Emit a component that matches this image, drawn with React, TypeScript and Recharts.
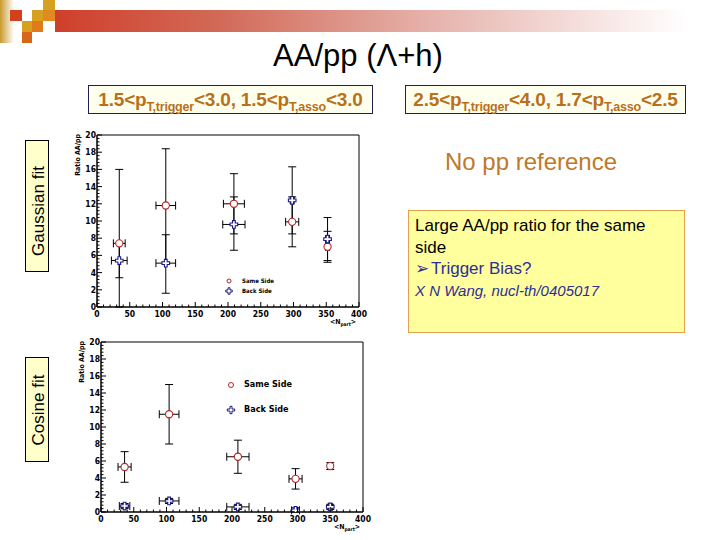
import React from 'react';
import { ScatterChart, Scatter, XAxis, YAxis, ErrorBar, Legend, Label, ReferenceArea } from 'recharts';

// ---------- data ----------
const nPartMajorTicks = [0, 50, 100, 150, 200, 250, 300, 350, 400];
const ratioMajorTicks = [0, 2, 4, 6, 8, 10, 12, 14, 16, 18, 20];

// Gaussian fit (top panel)
const gaussNpart = [34, 105, 209, 298, 352];
const gaussSame = [7.4, 11.8, 12.0, 9.9, 7.0];
const gaussSameErrY: [number, number][] = [[7.4, 8.6], [6.6, 6.6], [3.5, 3.5], [2.9, 2.9], [1.8, 1.8]];
const gaussSameErrX = [9, 15, 16, 10, 3];
const gaussBack = [5.4, 5.1, 9.6, 12.4, 7.9];
const gaussBackErrY: [number, number][] = [[2.0, 2.0], [3.5, 3.3], [3.0, 3.2], [3.9, 3.9], [2.5, 2.5]];
const gaussBackErrX = [12, 15, 17, 3, 3];

// Cosine fit (bottom panel)
const cosNpart = [36, 104, 209, 297, 350];
const cosSame = [5.3, 11.5, 6.5, 3.9, 5.4];
const cosSameErrY: [number, number][] = [[1.8, 1.8], [3.5, 3.5], [1.95, 1.95], [1.2, 1.2], [0.4, 0.4]];
const cosSameErrX = [10, 15, 17, 10, 3];
const cosBack = [0.7, 1.3, 0.6, 0.2, 0.6];
const cosBackErrY: [number, number][] = [[0.3, 0.3], [0.3, 0.3], [0.3, 0.3], [0.2, 0.3], [0.3, 0.3]];
const cosBackErrX = [8, 15, 17, 6, 3];

// ---------- helpers ----------
const ROOT_FONT = '"Liberation Sans Narrow", "DejaVu Sans Condensed", Arial, sans-serif';
const PAGE_FONT = 'Arial, "Liberation Sans", Helvetica, sans-serif';
const RED = '#B02828';
const NAVY = '#1A1A80';

const subdivide = (major: number[], n: number) => {
  const out: number[] = [];
  for (let i = 0; i < major.length - 1; i++) {
    const step = (major[i + 1] - major[i]) / n;
    for (let k = 0; k < n; k++) out.push(Number((major[i] + k * step).toFixed(4)));
  }
  out.push(major[major.length - 1]);
  return out;
};
const xTicks = subdivide(nPartMajorTicks, 5);
const yTicks = subdivide(ratioMajorTicks, 5);
const isMajor = (v: number, major: number[]) => major.some((m) => Math.abs(m - v) < 1e-6);

const build = (xs: number[], ys: number[], ey: [number, number][], ex: number[]) =>
  xs.map((x, i) => ({ x, y: ys[i], ey: ey[i], ex: ex[i] }));

const circleShape = (r: number) => (p: any) => (
  <circle cx={p.cx} cy={p.cy} r={r} fill="#fff" stroke={RED} strokeWidth={1.1} />
);
const crossPath = (cx: number, cy: number, L: number, a: number) =>
  `M${cx - a},${cy - L}H${cx + a}V${cy - a}H${cx + L}V${cy + a}H${cx + a}V${cy + L}H${cx - a}V${cy + a}H${cx - L}V${cy - a}H${cx - a}Z`;
const crossShape = (L: number) => (p: any) => (
  <path d={crossPath(p.cx, p.cy, L, L * 0.36)} fill="#fff" stroke={NAVY} strokeWidth={1.1} />
);

type PanelProps = {
  left: number;
  top: number;
  plotLeft: number;
  plotTop: number;
  plotW: number;
  plotH: number;
  same: any[];
  back: any[];
  legendLeft: number;
  legendTop: number;
  legendGap: number;
  legendFont: number;
  legendMarker: number;
  tickFont: number;
  titleFont: number;
};

const W = 330;
const H = 212;

function Panel(pp: PanelProps) {
  const { plotLeft, plotTop, plotW, plotH } = pp;
  const plotBottom = plotTop + plotH;
  const yAxisW = 30;
  const xAxisH = 20;
  const margin = {
    top: plotTop,
    left: plotLeft - yAxisW,
    right: W - plotLeft - plotW,
    bottom: H - plotBottom - xAxisH,
  };

  const XTick = (props: any) => {
    const { x, payload } = props;
    const v = payload.value;
    const maj = isMajor(v, nPartMajorTicks);
    return (
      <g>
        <line x1={x} x2={x} y1={plotBottom} y2={plotBottom - (maj ? 5 : 2.5)} stroke="#000" strokeWidth={1} />
        {maj && (
          <text x={x} y={plotBottom + 10} textAnchor="middle" fontSize={pp.tickFont} fontWeight="bold" fontFamily={ROOT_FONT} fill="#000">
            {v}
          </text>
        )}
      </g>
    );
  };
  const YTick = (props: any) => {
    const { y, payload } = props;
    const v = payload.value;
    const maj = isMajor(v, ratioMajorTicks);
    return (
      <g>
        <line x1={plotLeft} x2={plotLeft + (maj ? 5 : 2.5)} y1={y} y2={y} stroke="#000" strokeWidth={1} />
        {maj && (
          <text x={plotLeft - 1} y={y + 3} textAnchor="end" fontSize={pp.tickFont} fontWeight="bold" fontFamily={ROOT_FONT} fill="#000">
            {v}
          </text>
        )}
      </g>
    );
  };

  const legendContent = () => (
    <div style={{ fontFamily: ROOT_FONT, fontSize: pp.legendFont, fontWeight: 'bold', lineHeight: 1 }}>
      {[
        { name: 'Same Side', kind: 'c' },
        { name: 'Back Side', kind: 'x' },
      ].map((e) => (
        <div key={e.name} style={{ display: 'flex', alignItems: 'center', height: pp.legendGap }}>
          <svg width={14} height={10} style={{ marginRight: 4 }}>
            {e.kind === 'c' ? (
              <circle cx={5} cy={5} r={pp.legendMarker} fill="#fff" stroke={RED} strokeWidth={1} />
            ) : (
              <path d={crossPath(5, 5, pp.legendMarker + 1.2, 1)} fill="#fff" stroke={NAVY} strokeWidth={1} />
            )}
          </svg>
          <span>{e.name}</span>
        </div>
      ))}
    </div>
  );

  return (
    <div style={{ position: 'absolute', left: pp.left, top: pp.top, width: W, height: H }}>
      <ScatterChart width={W} height={H} margin={margin}>
        <ReferenceArea x1={0} x2={400} y1={0} y2={20} fill="none" stroke="#000" strokeWidth={1} ifOverflow="visible" />
        <XAxis
          type="number"
          dataKey="x"
          domain={[0, 400]}
          ticks={xTicks}
          interval={0}
          tick={XTick}
          tickLine={false}
          axisLine={{ stroke: '#000' }}
          height={xAxisH}
          allowDataOverflow
        >
          <Label
            content={() => (
              <text x={plotLeft + plotW - 16} y={plotBottom + 17} fontSize={pp.titleFont} fontWeight="bold" fontFamily={ROOT_FONT} textAnchor="middle">
                {'<N'}
                <tspan fontSize={pp.titleFont * 0.7} dy={2}>part</tspan>
                <tspan dy={-2}>{'>'}</tspan>
              </text>
            )}
          />
        </XAxis>
        <YAxis
          type="number"
          dataKey="y"
          domain={[0, 20]}
          ticks={yTicks}
          interval={0}
          tick={YTick}
          tickLine={false}
          axisLine={{ stroke: '#000' }}
          width={yAxisW}
          allowDataOverflow
        >
          <Label
            content={() => (
              <text
                transform={`translate(${plotLeft - 17},${plotTop - 1}) rotate(-90)`}
                textAnchor="end"
                fontSize={pp.titleFont}
                fontWeight="bold"
                fontFamily={ROOT_FONT}
              >
                Ratio AA/pp
              </text>
            )}
          />
        </YAxis>
        <Scatter name="Same Side" data={pp.same} shape={circleShape(3.6)} isAnimationActive={false}>
          <ErrorBar dataKey="ey" direction="y" width={4} stroke="#000" strokeWidth={1} />
          <ErrorBar dataKey="ex" direction="x" width={4} stroke="#000" strokeWidth={1} />
        </Scatter>
        <Scatter name="Back Side" data={pp.back} shape={crossShape(3.8)} isAnimationActive={false}>
          <ErrorBar dataKey="ey" direction="y" width={4} stroke="#000" strokeWidth={1} />
          <ErrorBar dataKey="ex" direction="x" width={4} stroke="#000" strokeWidth={1} />
        </Scatter>
        <Legend
          layout="vertical"
          align="center"
          verticalAlign="middle"
          content={legendContent}
          wrapperStyle={{ position: 'absolute', left: pp.legendLeft, top: pp.legendTop, width: 'auto', height: 'auto' }}
        />
      </ScatterChart>
    </div>
  );
}

const gaussSameData = build(gaussNpart, gaussSame, gaussSameErrY, gaussSameErrX);
const gaussBackData = build(gaussNpart, gaussBack, gaussBackErrY, gaussBackErrX);
const cosSameData = build(cosNpart, cosSame, cosSameErrY, cosSameErrX);
const cosBackData = build(cosNpart, cosBack, cosBackErrY, cosBackErrX);

const condBox: React.CSSProperties = {
  position: 'absolute',
  top: 85,
  height: 29,
  background: '#FFFFEE',
  border: '1px solid #1F1F50',
  boxSizing: 'border-box',
  color: '#B8701C',
  fontWeight: 'bold',
  fontSize: 19,
  fontFamily: PAGE_FONT,
  display: 'flex',
  alignItems: 'center',
  justifyContent: 'center',
  whiteSpace: 'nowrap',
  letterSpacing: -0.2,
};
const subStyle: React.CSSProperties = { fontSize: 12.5, verticalAlign: -5, lineHeight: 0 };

const fitBox: React.CSSProperties = {
  position: 'absolute',
  background: '#FFFFCC',
  border: '1px solid #000',
  boxSizing: 'border-box',
};

export default function App() {
  return (
    <div style={{ position: 'absolute', left: 0, top: 0, width: 720, height: 540, background: '#fff', overflow: 'hidden', fontFamily: PAGE_FONT }}>
      {/* header decoration */}
      <div style={{ position: 'absolute', left: 0, top: 0, width: 14, height: 43, background: 'linear-gradient(to right, #C99A2E, #FFFFFF)' }} />
      <div style={{ position: 'absolute', left: 55, top: 10, width: 665, height: 22, background: 'linear-gradient(to right, #CF3F2A 0%, #D26A58 25%, #E5AFA8 55%, #FFFFFF 95%)' }} />
      <div style={{ position: 'absolute', left: 10, top: 10, width: 12, height: 11, background: '#D2401E' }} />
      <div style={{ position: 'absolute', left: 43, top: 0, width: 12, height: 10, background: '#D6A020' }} />
      <div style={{ position: 'absolute', left: 32, top: 10, width: 11, height: 11, background: '#D6A020' }} />
      <div style={{ position: 'absolute', left: 43, top: 10, width: 12, height: 11, background: '#E08A20' }} />
      <div style={{ position: 'absolute', left: 22, top: 21, width: 10, height: 11, background: '#D6A020' }} />
      <div style={{ position: 'absolute', left: 32, top: 21, width: 11, height: 11, background: '#E07A1A' }} />
      <div style={{ position: 'absolute', left: 22, top: 32, width: 10, height: 11, background: '#D8661A' }} />

      {/* title */}
      <div style={{ position: 'absolute', left: 0, width: 720, top: 38, textAlign: 'center', fontSize: 31, color: '#000' }}>
        <span style={{ position: 'relative', left: -2 }}>AA/pp (Λ+h)</span>
      </div>

      {/* condition boxes */}
      <div style={{ ...condBox, left: 88, width: 285 }}>
        <span>
          1.5&lt;p<span style={subStyle}>T,trigger</span>&lt;3.0, 1.5&lt;p<span style={subStyle}>T,asso</span>&lt;3.0
        </span>
      </div>
      <div style={{ ...condBox, left: 405, width: 281 }}>
        <span>
          2.5&lt;p<span style={subStyle}>T,trigger</span>&lt;4.0, 1.7&lt;p<span style={subStyle}>T,asso</span>&lt;2.5
        </span>
      </div>

      {/* fit labels */}
      <div style={{ ...fitBox, left: 25, top: 140, width: 24, height: 132 }}>
        <div style={{ position: 'absolute', left: 12, top: 70, transform: 'translate(-50%,-50%) rotate(-90deg)', fontSize: 17, whiteSpace: 'nowrap', lineHeight: 1 }}>
          Gaussian fit
        </div>
      </div>
      <div style={{ ...fitBox, left: 25, top: 357, width: 24, height: 105 }}>
        <div style={{ position: 'absolute', left: 12, top: 52, transform: 'translate(-50%,-50%) rotate(-90deg)', fontSize: 17, whiteSpace: 'nowrap', lineHeight: 1 }}>
          Cosine fit
        </div>
      </div>

      {/* panels */}
      <Panel
        left={50}
        top={125}
        plotLeft={47}
        plotTop={10}
        plotW={262}
        plotH={172}
        same={gaussSameData}
        back={gaussBackData}
        legendLeft={174}
        legendTop={151}
        legendGap={10}
        legendFont={6}
        legendMarker={2}
        tickFont={8.5}
        titleFont={7}
      />
      <Panel
        left={50}
        top={330}
        plotLeft={51}
        plotTop={12}
        plotW={262}
        plotH={170}
        same={cosSameData}
        back={cosBackData}
        legendLeft={176}
        legendTop={42}
        legendGap={25}
        legendFont={9}
        legendMarker={2.5}
        tickFont={8.5}
        titleFont={7}
      />

      {/* right side notes */}
      <div style={{ position: 'absolute', left: 408, width: 246, top: 148, textAlign: 'center', fontSize: 24, color: '#C0782A', whiteSpace: 'nowrap' }}>
        No pp reference
      </div>
      <div
        style={{
          position: 'absolute',
          left: 408,
          top: 210,
          width: 277,
          height: 123,
          background: '#FFFF9E',
          border: '1px solid #E2A14E',
          boxSizing: 'border-box',
          padding: '4px 6px',
          fontSize: 17,
          lineHeight: '21.5px',
        }}
      >
        <div style={{ color: '#000' }}>Large AA/pp ratio for the same</div>
        <div style={{ color: '#000' }}>side</div>
        <div style={{ color: '#2E2E99' }}>
          <span style={{ fontSize: 17, marginRight: 2 }}>➢</span>Trigger Bias?
        </div>
        <div style={{ color: '#2E2E99', fontStyle: 'italic', fontSize: 15 }}>X N Wang, nucl-th/0405017</div>
      </div>
    </div>
  );
}
